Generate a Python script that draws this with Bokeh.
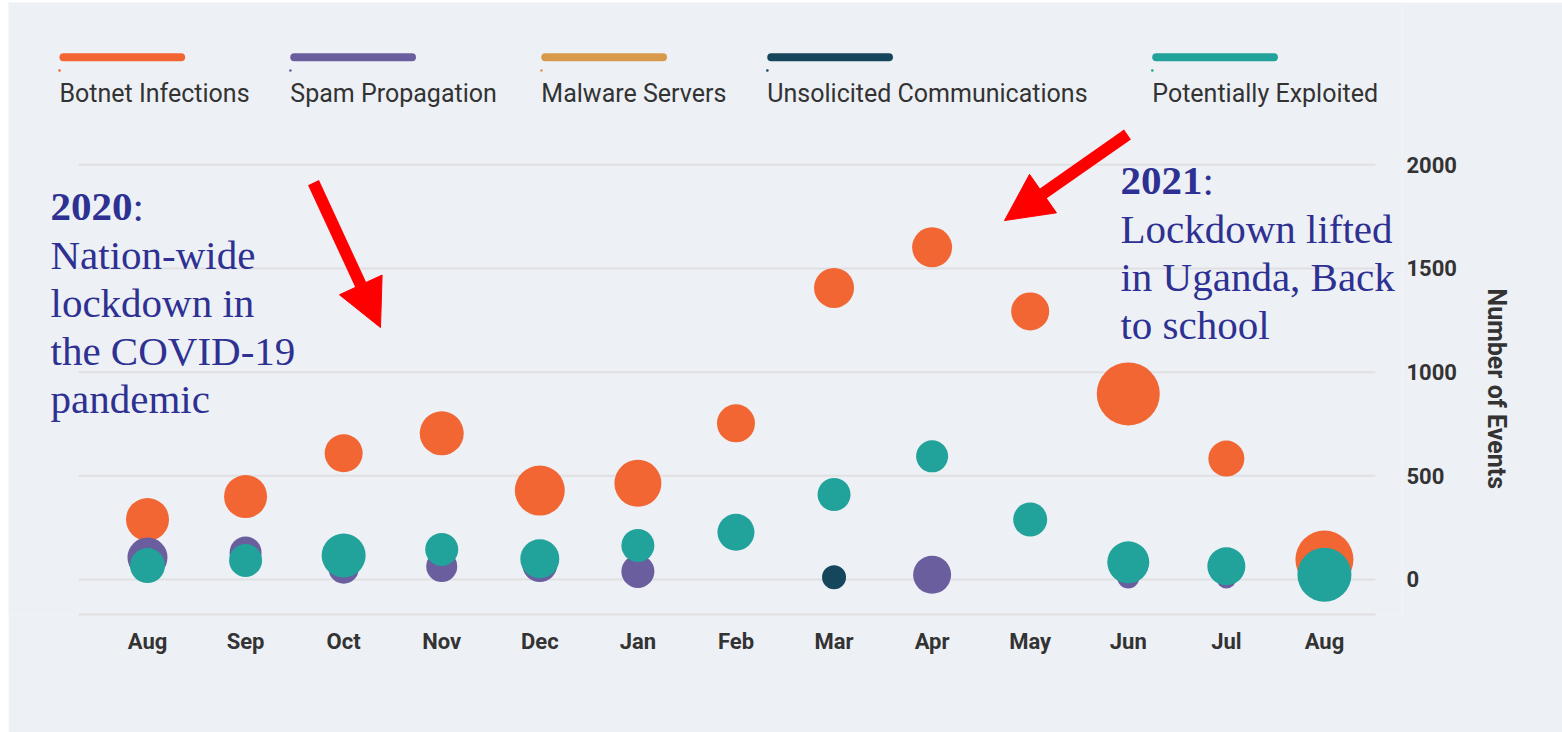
from bokeh.plotting import figure
from bokeh.models import (ColumnDataSource, FixedTicker, Label, Arrow, NormalHead,
                          Range1d, Title)
from bokeh.embed import file_html
from bokeh.resources import INLINE

nan = float("nan")

# ---------------- data ----------------
months = ["Aug", "Sep", "Oct", "Nov", "Dec", "Jan", "Feb", "Mar", "Apr", "May", "Jun", "Jul", "Aug"]
y_ticks = [0, 500, 1000, 1500, 2000]

botnet = [289, 400, 609, 705, 429, 464, 753, 1406, 1602, 1293, 895, 583, 96]
botnet_bubble = [43, 43, 38, 44, 50, 47, 38, 40, 40, 38, 63, 36, 58]

spam = [106, 130, 52, 63, 72, 39, nan, nan, 23, nan, 10, 5, nan]
spam_bubble = [40, 32, 30, 31, 35, 33, 0, 0, 38, 0, 22, 20, 0]

malware = [nan] * 13
malware_bubble = [0] * 13

unsolicited = [nan, nan, nan, nan, nan, nan, nan, 11, nan, nan, nan, nan, nan]
unsolicited_bubble = [0, 0, 0, 0, 0, 0, 0, 24, 0, 0, 0, 0, 0]

exploited = [67, 92, 116, 145, 100, 164, 228, 410, 594, 289, 83, 64, 23]
exploited_bubble = [35, 33, 44, 33, 39, 33, 37, 33, 32, 34, 42, 38, 54]

series_names = ["Botnet Infections", "Spam Propagation", "Malware Servers",
                "Unsolicited Communications", "Potentially Exploited"]
series_values = [botnet, spam, malware, unsolicited, exploited]
series_bubbles = [botnet_bubble, spam_bubble, malware_bubble, unsolicited_bubble, exploited_bubble]
series_colors = ["#F26633", "#6B5E9E", "#D69A4A", "#15465B", "#21A39B"]

note_2020 = ["Nation-wide", "lockdown in", "the COVID-19", "pandemic"]
note_2021 = ["Lockdown lifted", "in Uganda, Back", "to school"]

# ---------------- figure ----------------
BG = "#EDF0F5"
GRID = "#E0E0E2"
TXT = "#333333"
NOTE = "#2E3192"

X_LO, X_HI = -0.7035, 12.52          # extent of the drawn chart area (gridlines)
Y_LO = -168.8
PX_X = 98.08                          # pixels per category
PX_Y = 0.20736                        # pixels per event unit

p = figure(width=1554, height=730, output_backend="svg", toolbar_location=None,
           title_location=None,
           x_range=Range1d(-1.4172, 12.796), y_range=Range1d(Y_LO, 2782.6),
           y_axis_location="right",
           min_border_left=0, min_border_right=160, min_border_top=0, min_border_bottom=118)
p.margin = (2, 0, 0, 8)
p.background_fill_color = BG
p.border_fill_color = BG
p.outline_line_color = None

# gridlines limited to the chart area
p.xgrid.grid_line_color = None
p.ygrid.grid_line_color = None
p.segment(x0=[X_LO] * len(y_ticks), x1=[X_HI] * len(y_ticks), y0=y_ticks, y1=y_ticks,
          line_color=GRID, line_width=2)

xs = list(range(len(months)))
for vals, sizes, col in zip(series_values, series_bubbles, series_colors):
    src = ColumnDataSource(dict(x=xs, y=vals, s=sizes))
    p.scatter("x", "y", size="s", source=src, fill_color=col, line_color=None)

# axes
p.xaxis.ticker = FixedTicker(ticks=xs)
p.xaxis.bounds = (X_LO, X_HI)
p.xaxis.major_label_overrides = {i: m for i, m in enumerate(months)}
p.xaxis.major_tick_line_color = None
p.xaxis.minor_tick_line_color = None
p.xaxis.major_tick_out = 0
p.xaxis.major_tick_in = 0
p.xaxis.minor_tick_out = 0
p.xaxis.axis_line_color = GRID
p.xaxis.axis_line_width = 2
p.xaxis.major_label_standoff = 14
p.xaxis.major_label_text_font = "Roboto"
p.xaxis.major_label_text_font_size = "22px"
p.xaxis.major_label_text_font_style = "bold"
p.xaxis.major_label_text_color = TXT

p.yaxis.ticker = FixedTicker(ticks=y_ticks)
p.yaxis.major_tick_line_color = None
p.yaxis.minor_tick_line_color = None
p.yaxis.major_tick_out = 0
p.yaxis.major_tick_in = 0
p.yaxis.minor_tick_out = 0
p.yaxis.axis_line_color = None
p.yaxis.major_label_standoff = 4
p.yaxis.major_label_text_font = "Roboto"
p.yaxis.major_label_text_font_size = "22px"
p.yaxis.major_label_text_font_style = "bold"
p.yaxis.major_label_text_color = TXT

p.add_layout(Title(text="Number of Events", align="left", offset=286, standoff=44,
                   text_font="Roboto", text_font_size="25px", text_font_style="bold",
                   text_color=TXT), "right")

# ---------------- legend ----------------
LEG_FS = 25
leg_x = [-0.897, 1.4566, 4.0157, 6.3199, 10.245]   # left edges (x units)
bar_len = 1.20
bar_y = 2519
text_y = 2302 + 0.35 * LEG_FS / PX_Y
for lx, name, col in zip(leg_x, series_names, series_colors):
    p.add_layout(Arrow(x_start=lx + 0.04, y_start=bar_y, x_end=lx + 0.04 + bar_len, y_end=bar_y,
                       start=None, end=None, line_color=col, line_width=8, line_cap="round"))
    p.add_layout(Arrow(x_start=lx, y_start=2455, x_end=lx + 0.001, y_end=2455,
                       start=None, end=None, line_color=col, line_width=2.5, line_cap="round"))
    p.add_layout(Label(x=lx, y=text_y, text=name, text_font="Roboto",
                       text_font_size=f"{LEG_FS}px",
                       text_color=TXT, text_baseline="alphabetic", text_align="left"))

# ---------------- annotations ----------------
FS = 41
step = 48 / PX_Y
shift = 0.35 * FS / PX_Y
colon_dx = 2.0 * FS / PX_X   # width of four bold digits


def note(x0, y0, year, lines):
    p.add_layout(Label(x=x0, y=y0 + shift, text=year, text_font="Liberation Serif",
                       text_font_size=f"{FS}px", text_font_style="bold", text_color=NOTE,
                       text_baseline="alphabetic"))
    p.add_layout(Label(x=x0 + colon_dx, y=y0 + shift, text=":", text_font="Liberation Serif",
                       text_font_size=f"{FS}px", text_color=NOTE, text_baseline="alphabetic"))
    for i, line in enumerate(lines):
        p.add_layout(Label(x=x0, y=y0 + shift - step * (i + 1), text=line,
                           text_font="Liberation Serif", text_font_size=f"{FS}px",
                           text_color=NOTE, text_baseline="alphabetic"))


note(-0.989, 1726, "2020", note_2020)
note(9.92, 1852, "2021", note_2021)

RED = "#FF0000"
p.add_layout(Arrow(x_start=1.6925, y_start=1914, x_end=2.3756, y_end=1215,
                   line_color=RED, line_width=12,
                   end=NormalHead(size=47, fill_color=RED, line_color=RED, line_width=1)))
p.add_layout(Arrow(x_start=9.992, y_start=2146, x_end=8.738, y_end=1731,
                   line_color=RED, line_width=12,
                   end=NormalHead(size=47, fill_color=RED, line_color=RED, line_width=1)))

open("out.html", "w").write(file_html(p, INLINE))
